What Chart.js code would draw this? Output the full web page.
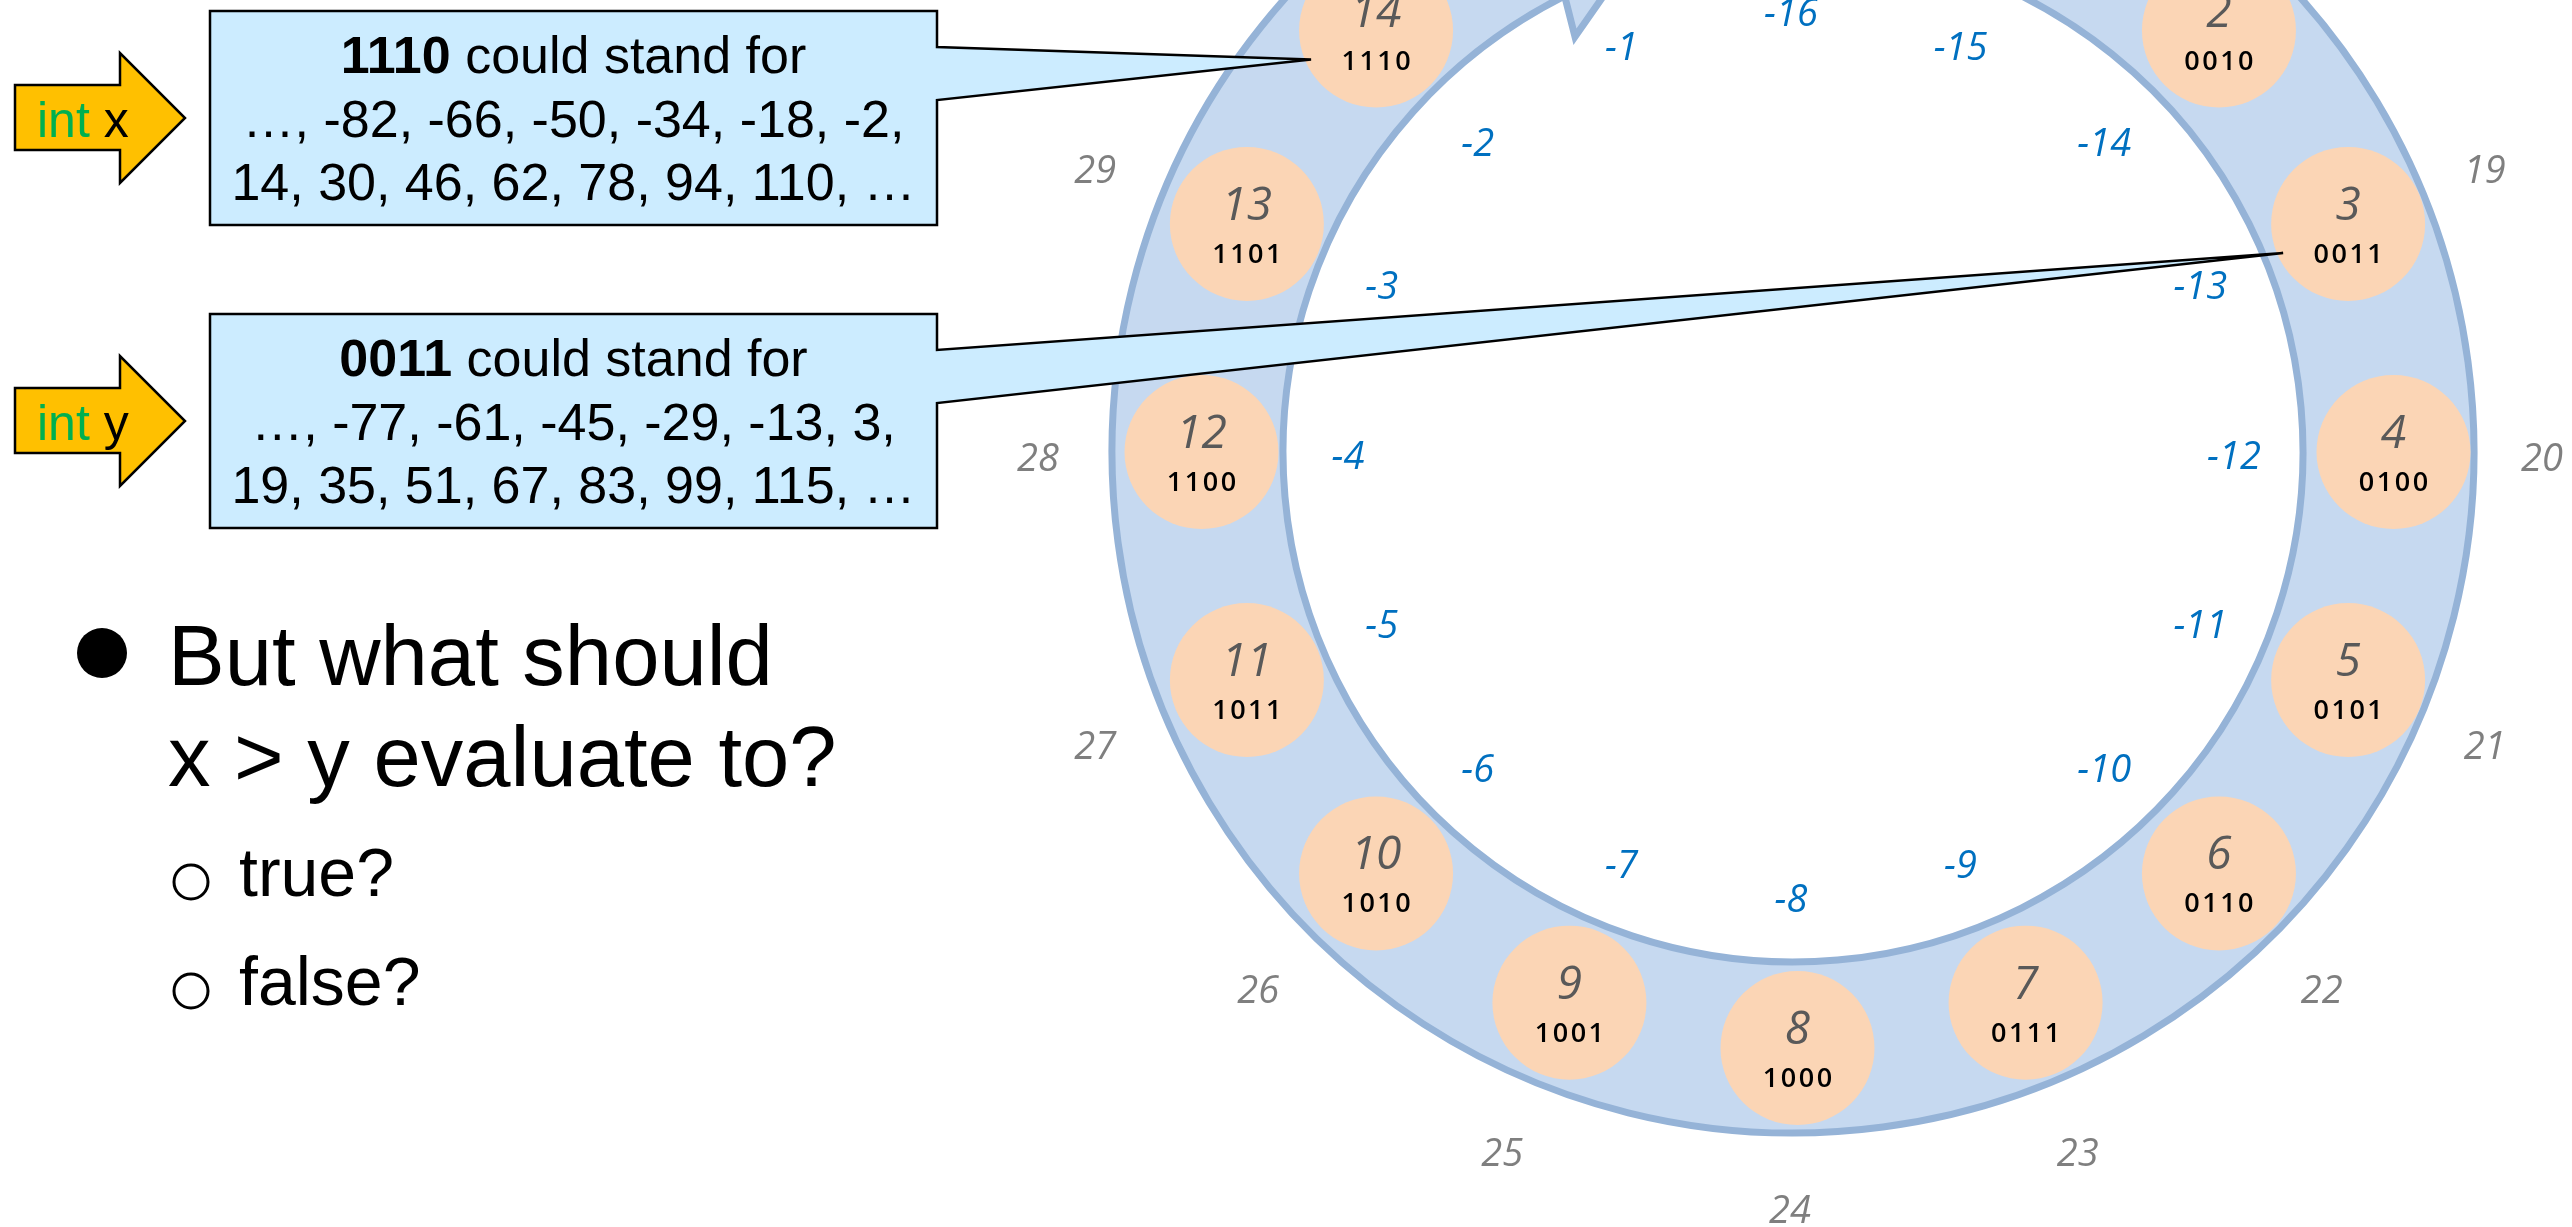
<!DOCTYPE html>
<html>
<head>
<meta charset="utf-8">
<script src="https://cdn.jsdelivr.net/npm/chart.js@4/dist/chart.umd.min.js"></script>
<style>
html,body{margin:0;padding:0;background:#fff;overflow:hidden;}
canvas{display:block;}
</style>
</head>
<body>
<canvas id="c" width="2572" height="1227"></canvas>
<script>
// ---------- data ----------
const bitCodes = ['0000','0001','0010','0011','0100','0101','0110','0111',
                  '1000','1001','1010','1011','1100','1101','1110','1111'];
const unsignedValues = [0,1,2,3,4,5,6,7,8,9,10,11,12,13,14,15];
const plus16Values = [16,17,18,19,20,21,22,23,24,25,26,27,28,29,30,31];
const minus16Values = [-16,-15,-14,-13,-12,-11,-10,-9,-8,-7,-6,-5,-4,-3,-2,-1];

const xBits = '1110';
const xCandidates = [-82,-66,-50,-34,-18,-2,14,30,46,62,78,94,110];
const yBits = '0011';
const yCandidates = [-77,-61,-45,-29,-13,3,19,35,51,67,83,99,115];
const varNames = ['x','y'];
const bulletLines = ['But what should','x > y evaluate to?'];
const subOptions = ['true?','false?'];

// ---------- geometry (layout, not data) ----------
const W = 2572, H = 1227;
const STEP = Math.PI * 2 / 16;
const ringGeo  = {cx:1793, cy:452, rOut:681, rIn:510};
const nodeGeo  = {cx:1797.5, cy:452, r:596, size:77};
const innerGeo = {cx:1791, cy:458, r:443};
const outerGeo = {cx:1790, cy:460, r:752};

function polar(g, k, r) {
  const a = k * STEP;
  return {x: g.cx + r * Math.sin(a), y: g.cy - r * Math.cos(a)};
}

const nodePoints = unsignedValues.map(k => polar(nodeGeo, k, nodeGeo.r));

// ---------- plugins ----------
const ringPlugin = {
  id: 'ring',
  beforeDatasetsDraw(chart) {
    const {ctx, scales: {x, y}} = chart;
    const px = v => x.getPixelForValue(v), py = v => y.getPixelForValue(v);
    const pt = (deg, r) => {
      const t = deg * Math.PI / 180;
      return [px(ringGeo.cx + r * Math.sin(t)), py(ringGeo.cy - r * Math.cos(t))];
    };
    const cxp = px(ringGeo.cx), cyp = py(ringGeo.cy);
    const ro = px(ringGeo.cx + ringGeo.rOut) - cxp;
    const ri = px(ringGeo.cx + ringGeo.rIn) - cxp;
    const toC = d => (d - 90) * Math.PI / 180;
    const a0 = 14, a1 = 333.4;
    ctx.save();
    ctx.beginPath();
    ctx.arc(cxp, cyp, ro, toC(a0), toC(a1), false);
    ctx.lineTo(...pt(332.5, ringGeo.rOut + 45));
    ctx.lineTo(...pt(350.5, 595));
    ctx.lineTo(...pt(332.3, 469));
    ctx.lineTo(...pt(a1, ringGeo.rIn));
    ctx.arc(cxp, cyp, ri, toC(a1), toC(a0), true);
    ctx.closePath();
    ctx.fillStyle = 'rgb(198,217,240)';
    ctx.fill();
    ctx.lineWidth = 7;
    ctx.lineJoin = 'miter';
    ctx.strokeStyle = 'rgb(149,179,215)';
    ctx.stroke();
    ctx.restore();
  }
};

const labelPlugin = {
  id: 'labels',
  afterDatasetsDraw(chart) {
    const {ctx, scales: {x, y}} = chart;
    const px = v => x.getPixelForValue(v), py = v => y.getPixelForValue(v);
    ctx.save();
    ctx.textAlign = 'center';
    unsignedValues.forEach((v, k) => {
      const p = nodePoints[k];
      ctx.textBaseline = 'alphabetic';
      ctx.fillStyle = '#595959';
      ctx.font = 'italic 46px "Open Sans"';
      ctx.letterSpacing = '0px';
      ctx.fillText(String(v), px(p.x), py(p.y - 4));
      ctx.fillStyle = '#000';
      ctx.font = '600 27px "Open Sans"';
      ctx.letterSpacing = '2.5px';
      ctx.fillText(bitCodes[k], px(p.x) + 1.25, py(p.y + 39));
    });
    ctx.letterSpacing = '0px';
    ctx.textBaseline = 'middle';
    ctx.fillStyle = '#0070C0';
    ctx.font = 'italic 38px "Open Sans"';
    minus16Values.forEach((v, k) => {
      const p = polar(innerGeo, k, innerGeo.r);
      ctx.fillText(String(v), px(p.x), py(p.y));
    });
    ctx.fillStyle = '#7F7F7F';
    ctx.font = 'italic 38px "Open Sans"';
    plus16Values.forEach((v, k) => {
      const p = polar(outerGeo, k, outerGeo.r);
      ctx.fillText(String(v), px(p.x), py(p.y));
    });
    ctx.restore();
  }
};

const overlayPlugin = {
  id: 'overlay',
  afterDraw(chart) {
    const {ctx, scales: {x, y}} = chart;
    const px = v => x.getPixelForValue(v), py = v => y.getPixelForValue(v);
    ctx.save();
    const boxes = [
      {bits: xBits, cand: xCandidates, top: 11, node: 14},
      {bits: yBits, cand: yCandidates, top: 314, node: 3}
    ];
    boxes.forEach((b, i) => {
      const L = 210, R = 937, T = b.top, B = b.top + 214;
      const tipNode = nodePoints[b.node];
      const tip = {x: tipNode.x - 65, y: tipNode.y + 29};
      ctx.beginPath();
      ctx.moveTo(px(L), py(T));
      ctx.lineTo(px(R), py(T));
      ctx.lineTo(px(R), py(T + 36));
      ctx.lineTo(px(tip.x), py(tip.y));
      ctx.lineTo(px(R), py(T + 89));
      ctx.lineTo(px(R), py(B));
      ctx.lineTo(px(L), py(B));
      ctx.closePath();
      ctx.fillStyle = '#CCECFF';
      ctx.fill();
      ctx.lineWidth = 2.5;
      ctx.lineJoin = 'miter';
      ctx.strokeStyle = '#000';
      ctx.stroke();
      const cx = px((L + R) / 2);
      ctx.fillStyle = '#000';
      ctx.textBaseline = 'alphabetic';
      ctx.textAlign = 'left';
      ctx.font = 'bold 52px "Liberation Sans"';
      const w1 = ctx.measureText(b.bits).width;
      ctx.font = '52px "Liberation Sans"';
      const rest = ' could stand for';
      const w2 = ctx.measureText(rest).width;
      const sx = cx - (w1 + w2) / 2;
      ctx.font = 'bold 52px "Liberation Sans"';
      ctx.fillText(b.bits, sx, py(T + 62));
      ctx.font = '52px "Liberation Sans"';
      ctx.fillText(rest, sx + w1, py(T + 62));
      ctx.textAlign = 'center';
      const line2 = '\u2026, ' + b.cand.slice(0, 6).join(', ') + ',';
      const line3 = b.cand.slice(6).join(', ') + ', \u2026';
      ctx.fillText(line2, cx, py(T + 126));
      ctx.fillText(line3, cx, py(T + 189));

      const o = b.top - 11;
      ctx.beginPath();
      ctx.moveTo(px(15), py(85 + o));
      ctx.lineTo(px(120), py(85 + o));
      ctx.lineTo(px(120), py(53 + o));
      ctx.lineTo(px(185), py(118 + o));
      ctx.lineTo(px(120), py(183 + o));
      ctx.lineTo(px(120), py(150 + o));
      ctx.lineTo(px(15), py(150 + o));
      ctx.closePath();
      ctx.fillStyle = '#FFC000';
      ctx.fill();
      ctx.lineWidth = 2.5;
      ctx.strokeStyle = '#000';
      ctx.stroke();
      ctx.textAlign = 'left';
      ctx.font = '50px "Liberation Sans"';
      ctx.fillStyle = '#00B050';
      ctx.fillText('int', px(37), py(137 + o));
      const wi = ctx.measureText('int ').width;
      ctx.fillStyle = '#000';
      ctx.fillText(varNames[i], px(37) + wi, py(137 + o));
    });

    ctx.fillStyle = '#000';
    ctx.beginPath();
    ctx.arc(px(102), py(653), 25, 0, Math.PI * 2);
    ctx.fill();
    ctx.font = '85px "Liberation Sans"';
    ctx.textAlign = 'left';
    ctx.textBaseline = 'alphabetic';
    ctx.fillText(bulletLines[0], px(168), py(685));
    ctx.fillText(bulletLines[1], px(168), py(786));
    const subBase = [896, 1005];
    ctx.font = '68px "Liberation Sans"';
    subOptions.forEach((t, i) => {
      ctx.beginPath();
      ctx.arc(px(191), py(subBase[i] - 14), 17, 0, Math.PI * 2);
      ctx.lineWidth = 3;
      ctx.strokeStyle = '#000';
      ctx.stroke();
      ctx.fillText(t, px(239), py(subBase[i]));
    });
    ctx.restore();
  }
};

new Chart(document.getElementById('c'), {
  type: 'scatter',
  data: {
    datasets: [{
      label: 'nodes',
      data: nodePoints,
      pointRadius: nodeGeo.size,
      pointHoverRadius: nodeGeo.size,
      backgroundColor: 'rgb(251,213,181)',
      borderWidth: 0,
      pointBorderWidth: 0,
      clip: false
    }]
  },
  options: {
    responsive: false,
    animation: false,
    devicePixelRatio: 1,
    layout: {padding: 0, autoPadding: false},
    events: [],
    plugins: {legend: {display: false}, tooltip: {enabled: false}},
    scales: {
      x: {type: 'linear', min: 0, max: W, display: false},
      y: {type: 'linear', min: 0, max: H, reverse: true, display: false}
    }
  },
  plugins: [ringPlugin, labelPlugin, overlayPlugin]
});
</script>
</body>
</html>
